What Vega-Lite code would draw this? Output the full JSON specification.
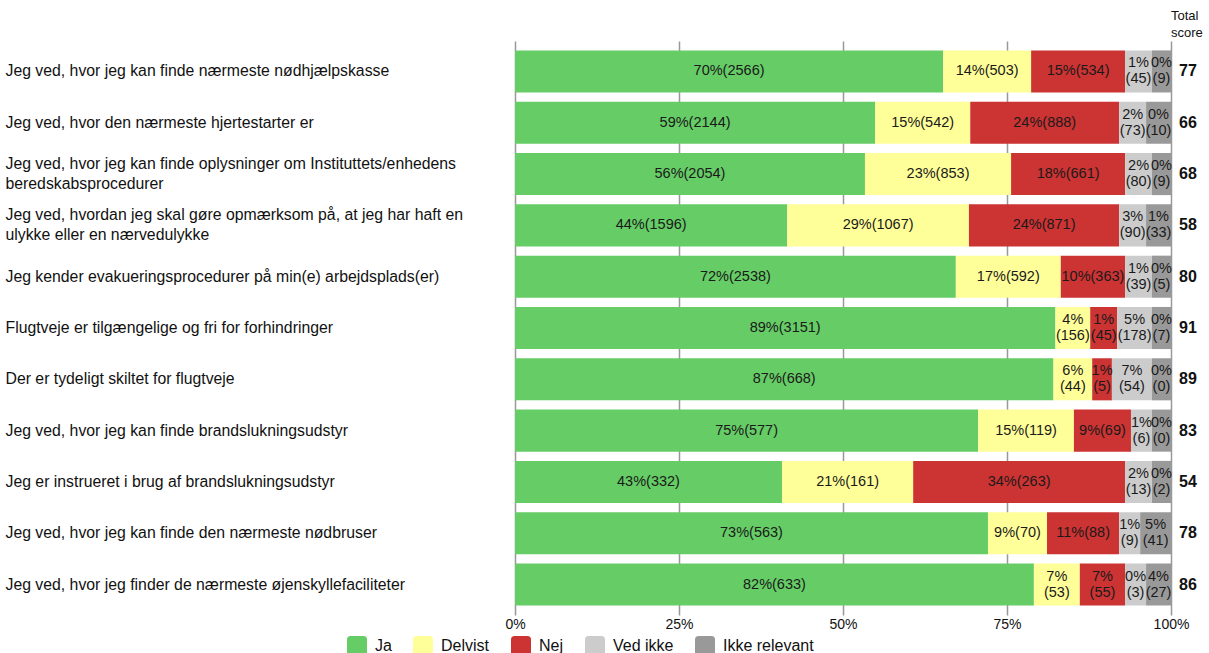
{
  "$schema": "https://vega.github.io/schema/vega-lite/v6.json",
  "autosize": {"type": "none"},
  "width": 656,
  "height": 574,
  "padding": {"left": 515, "top": 41, "right": 38, "bottom": 38},
  "config": {
    "font": "Liberation Sans",
    "view": {"stroke": null},
    "axis": {"labelColor": "#111", "labelFont": "Liberation Sans"},
    "legend": {"labelFont": "Liberation Sans"}
  },
  "title": {
    "text": ["Total", "score"],
    "orient": "top",
    "anchor": "end",
    "align": "left",
    "frame": "group",
    "fontSize": 13,
    "fontWeight": "normal",
    "color": "#111",
    "lineHeight": 17,
    "offset": 1,
    "dx": 0
  },
  "datasets": {
    "bars": [
      {"q": "Jeg ved, hvor jeg kan finde nærmeste nødhjælpskasse", "cat": "Ja", "k": 1, "share": 65.2, "lbl": "70%(2566)"},
      {"q": "Jeg ved, hvor jeg kan finde nærmeste nødhjælpskasse", "cat": "Delvist", "k": 2, "share": 13.4, "lbl": "14%(503)"},
      {"q": "Jeg ved, hvor jeg kan finde nærmeste nødhjælpskasse", "cat": "Nej", "k": 3, "share": 14.3, "lbl": "15%(534)"},
      {"q": "Jeg ved, hvor jeg kan finde nærmeste nødhjælpskasse", "cat": "Ved ikke", "k": 4, "share": 4.1, "lbl": "1%\n(45)"},
      {"q": "Jeg ved, hvor jeg kan finde nærmeste nødhjælpskasse", "cat": "Ikke relevant", "k": 5, "share": 2.9, "lbl": "0%\n(9)"},
      {"q": "Jeg ved, hvor den nærmeste hjertestarter er", "cat": "Ja", "k": 1, "share": 54.9, "lbl": "59%(2144)"},
      {"q": "Jeg ved, hvor den nærmeste hjertestarter er", "cat": "Delvist", "k": 2, "share": 14.5, "lbl": "15%(542)"},
      {"q": "Jeg ved, hvor den nærmeste hjertestarter er", "cat": "Nej", "k": 3, "share": 22.7, "lbl": "24%(888)"},
      {"q": "Jeg ved, hvor den nærmeste hjertestarter er", "cat": "Ved ikke", "k": 4, "share": 4.1, "lbl": "2%\n(73)"},
      {"q": "Jeg ved, hvor den nærmeste hjertestarter er", "cat": "Ikke relevant", "k": 5, "share": 3.8, "lbl": "0%\n(10)"},
      {"q": "Jeg ved, hvor jeg kan finde oplysninger om Instituttets/enhedens|beredskabsprocedurer", "cat": "Ja", "k": 1, "share": 53.4, "lbl": "56%(2054)"},
      {"q": "Jeg ved, hvor jeg kan finde oplysninger om Instituttets/enhedens|beredskabsprocedurer", "cat": "Delvist", "k": 2, "share": 22.3, "lbl": "23%(853)"},
      {"q": "Jeg ved, hvor jeg kan finde oplysninger om Instituttets/enhedens|beredskabsprocedurer", "cat": "Nej", "k": 3, "share": 17.4, "lbl": "18%(661)"},
      {"q": "Jeg ved, hvor jeg kan finde oplysninger om Instituttets/enhedens|beredskabsprocedurer", "cat": "Ved ikke", "k": 4, "share": 4.1, "lbl": "2%\n(80)"},
      {"q": "Jeg ved, hvor jeg kan finde oplysninger om Instituttets/enhedens|beredskabsprocedurer", "cat": "Ikke relevant", "k": 5, "share": 2.9, "lbl": "0%\n(9)"},
      {"q": "Jeg ved, hvordan jeg skal gøre opmærksom på, at jeg har haft en|ulykke eller en nærvedulykke", "cat": "Ja", "k": 1, "share": 41.5, "lbl": "44%(1596)"},
      {"q": "Jeg ved, hvordan jeg skal gøre opmærksom på, at jeg har haft en|ulykke eller en nærvedulykke", "cat": "Delvist", "k": 2, "share": 27.7, "lbl": "29%(1067)"},
      {"q": "Jeg ved, hvordan jeg skal gøre opmærksom på, at jeg har haft en|ulykke eller en nærvedulykke", "cat": "Nej", "k": 3, "share": 22.9, "lbl": "24%(871)"},
      {"q": "Jeg ved, hvordan jeg skal gøre opmærksom på, at jeg har haft en|ulykke eller en nærvedulykke", "cat": "Ved ikke", "k": 4, "share": 4.1, "lbl": "3%\n(90)"},
      {"q": "Jeg ved, hvordan jeg skal gøre opmærksom på, at jeg har haft en|ulykke eller en nærvedulykke", "cat": "Ikke relevant", "k": 5, "share": 3.8, "lbl": "1%\n(33)"},
      {"q": "Jeg kender evakueringsprocedurer på min(e) arbejdsplads(er)", "cat": "Ja", "k": 1, "share": 67.2, "lbl": "72%(2538)"},
      {"q": "Jeg kender evakueringsprocedurer på min(e) arbejdsplads(er)", "cat": "Delvist", "k": 2, "share": 16.0, "lbl": "17%(592)"},
      {"q": "Jeg kender evakueringsprocedurer på min(e) arbejdsplads(er)", "cat": "Nej", "k": 3, "share": 9.8, "lbl": "10%(363)"},
      {"q": "Jeg kender evakueringsprocedurer på min(e) arbejdsplads(er)", "cat": "Ved ikke", "k": 4, "share": 4.1, "lbl": "1%\n(39)"},
      {"q": "Jeg kender evakueringsprocedurer på min(e) arbejdsplads(er)", "cat": "Ikke relevant", "k": 5, "share": 2.9, "lbl": "0%\n(5)"},
      {"q": "Flugtveje er tilgængelige og fri for forhindringer", "cat": "Ja", "k": 1, "share": 82.3, "lbl": "89%(3151)"},
      {"q": "Flugtveje er tilgængelige og fri for forhindringer", "cat": "Delvist", "k": 2, "share": 5.3, "lbl": "4%\n(156)"},
      {"q": "Flugtveje er tilgængelige og fri for forhindringer", "cat": "Nej", "k": 3, "share": 4.1, "lbl": "1%\n(45)"},
      {"q": "Flugtveje er tilgængelige og fri for forhindringer", "cat": "Ved ikke", "k": 4, "share": 5.3, "lbl": "5%\n(178)"},
      {"q": "Flugtveje er tilgængelige og fri for forhindringer", "cat": "Ikke relevant", "k": 5, "share": 2.9, "lbl": "0%\n(7)"},
      {"q": "Der er tydeligt skiltet for flugtveje", "cat": "Ja", "k": 1, "share": 82.0, "lbl": "87%(668)"},
      {"q": "Der er tydeligt skiltet for flugtveje", "cat": "Delvist", "k": 2, "share": 5.9, "lbl": "6%\n(44)"},
      {"q": "Der er tydeligt skiltet for flugtveje", "cat": "Nej", "k": 3, "share": 3.0, "lbl": "1%\n(5)"},
      {"q": "Der er tydeligt skiltet for flugtveje", "cat": "Ved ikke", "k": 4, "share": 6.1, "lbl": "7%\n(54)"},
      {"q": "Der er tydeligt skiltet for flugtveje", "cat": "Ikke relevant", "k": 5, "share": 2.9, "lbl": "0%\n(0)"},
      {"q": "Jeg ved, hvor jeg kan finde brandslukningsudstyr", "cat": "Ja", "k": 1, "share": 70.6, "lbl": "75%(577)"},
      {"q": "Jeg ved, hvor jeg kan finde brandslukningsudstyr", "cat": "Delvist", "k": 2, "share": 14.6, "lbl": "15%(119)"},
      {"q": "Jeg ved, hvor jeg kan finde brandslukningsudstyr", "cat": "Nej", "k": 3, "share": 8.7, "lbl": "9%(69)"},
      {"q": "Jeg ved, hvor jeg kan finde brandslukningsudstyr", "cat": "Ved ikke", "k": 4, "share": 3.2, "lbl": "1%\n(6)"},
      {"q": "Jeg ved, hvor jeg kan finde brandslukningsudstyr", "cat": "Ikke relevant", "k": 5, "share": 2.9, "lbl": "0%\n(0)"},
      {"q": "Jeg er instrueret i brug af brandslukningsudstyr", "cat": "Ja", "k": 1, "share": 40.7, "lbl": "43%(332)"},
      {"q": "Jeg er instrueret i brug af brandslukningsudstyr", "cat": "Delvist", "k": 2, "share": 20.0, "lbl": "21%(161)"},
      {"q": "Jeg er instrueret i brug af brandslukningsudstyr", "cat": "Nej", "k": 3, "share": 32.3, "lbl": "34%(263)"},
      {"q": "Jeg er instrueret i brug af brandslukningsudstyr", "cat": "Ved ikke", "k": 4, "share": 4.1, "lbl": "2%\n(13)"},
      {"q": "Jeg er instrueret i brug af brandslukningsudstyr", "cat": "Ikke relevant", "k": 5, "share": 2.9, "lbl": "0%\n(2)"},
      {"q": "Jeg ved, hvor jeg kan finde den nærmeste nødbruser", "cat": "Ja", "k": 1, "share": 72.1, "lbl": "73%(563)"},
      {"q": "Jeg ved, hvor jeg kan finde den nærmeste nødbruser", "cat": "Delvist", "k": 2, "share": 9.0, "lbl": "9%(70)"},
      {"q": "Jeg ved, hvor jeg kan finde den nærmeste nødbruser", "cat": "Nej", "k": 3, "share": 11.0, "lbl": "11%(88)"},
      {"q": "Jeg ved, hvor jeg kan finde den nærmeste nødbruser", "cat": "Ved ikke", "k": 4, "share": 3.2, "lbl": "1%\n(9)"},
      {"q": "Jeg ved, hvor jeg kan finde den nærmeste nødbruser", "cat": "Ikke relevant", "k": 5, "share": 4.7, "lbl": "5%\n(41)"},
      {"q": "Jeg ved, hvor jeg finder de nærmeste øjenskyllefaciliteter", "cat": "Ja", "k": 1, "share": 79.1, "lbl": "82%(633)"},
      {"q": "Jeg ved, hvor jeg finder de nærmeste øjenskyllefaciliteter", "cat": "Delvist", "k": 2, "share": 7.0, "lbl": "7%\n(53)"},
      {"q": "Jeg ved, hvor jeg finder de nærmeste øjenskyllefaciliteter", "cat": "Nej", "k": 3, "share": 6.9, "lbl": "7%\n(55)"},
      {"q": "Jeg ved, hvor jeg finder de nærmeste øjenskyllefaciliteter", "cat": "Ved ikke", "k": 4, "share": 3.2, "lbl": "0%\n(3)"},
      {"q": "Jeg ved, hvor jeg finder de nærmeste øjenskyllefaciliteter", "cat": "Ikke relevant", "k": 5, "share": 3.8, "lbl": "4%\n(27)"}
    ],
    "scores": [
      {"q": "Jeg ved, hvor jeg kan finde nærmeste nødhjælpskasse", "score": 77},
      {"q": "Jeg ved, hvor den nærmeste hjertestarter er", "score": 66},
      {"q": "Jeg ved, hvor jeg kan finde oplysninger om Instituttets/enhedens|beredskabsprocedurer", "score": 68},
      {"q": "Jeg ved, hvordan jeg skal gøre opmærksom på, at jeg har haft en|ulykke eller en nærvedulykke", "score": 58},
      {"q": "Jeg kender evakueringsprocedurer på min(e) arbejdsplads(er)", "score": 80},
      {"q": "Flugtveje er tilgængelige og fri for forhindringer", "score": 91},
      {"q": "Der er tydeligt skiltet for flugtveje", "score": 89},
      {"q": "Jeg ved, hvor jeg kan finde brandslukningsudstyr", "score": 83},
      {"q": "Jeg er instrueret i brug af brandslukningsudstyr", "score": 54},
      {"q": "Jeg ved, hvor jeg kan finde den nærmeste nødbruser", "score": 78},
      {"q": "Jeg ved, hvor jeg finder de nærmeste øjenskyllefaciliteter", "score": 86}
    ]
  },
  "encoding": {
    "y": {
      "field": "q",
      "type": "nominal",
      "title": null,
      "scale": {
        "domain": [
          "Jeg ved, hvor jeg kan finde nærmeste nødhjælpskasse",
          "Jeg ved, hvor den nærmeste hjertestarter er",
          "Jeg ved, hvor jeg kan finde oplysninger om Instituttets/enhedens|beredskabsprocedurer",
          "Jeg ved, hvordan jeg skal gøre opmærksom på, at jeg har haft en|ulykke eller en nærvedulykke",
          "Jeg kender evakueringsprocedurer på min(e) arbejdsplads(er)",
          "Flugtveje er tilgængelige og fri for forhindringer",
          "Der er tydeligt skiltet for flugtveje",
          "Jeg ved, hvor jeg kan finde brandslukningsudstyr",
          "Jeg er instrueret i brug af brandslukningsudstyr",
          "Jeg ved, hvor jeg kan finde den nærmeste nødbruser",
          "Jeg ved, hvor jeg finder de nærmeste øjenskyllefaciliteter"
        ],
        "paddingInner": 0.18,
        "paddingOuter": 0.183
      },
      "axis": {
        "labelExpr": "split(datum.label, '|')",
        "labelAlign": "left",
        "labelBaseline": "middle",
        "labelPadding": 510,
        "labelLimit": 505,
        "labelFontSize": 15.8,
        "labelLineHeight": 20,
        "labelOffset": {"condition": {"test": "indexof(datum.value, '|') >= 0", "value": -10}, "value": 0},
        "labelColor": "#111",
        "ticks": false,
        "domain": false,
        "grid": false
      }
    }
  },
  "layer": [
    {
      "data": {"name": "bars"},
      "mark": {"type": "bar"},
      "encoding": {
        "x": {
          "field": "share",
          "type": "quantitative",
          "stack": "normalize",
          "title": null,
          "scale": {"domain": [0, 1], "nice": false},
          "axis": {
            "values": [0, 0.25, 0.5, 0.75, 1],
            "format": ".0%",
            "grid": true,
            "gridColor": "#999999",
            "gridWidth": 1.5,
            "ticks": false,
            "domain": false,
            "labelFlush": false,
            "labelFontSize": 14,
            "labelPadding": 2,
            "labelColor": "#111"
          }
        },
        "color": {
          "field": "cat",
          "type": "nominal",
          "scale": {
            "domain": ["Ja", "Delvist", "Nej", "Ved ikke", "Ikke relevant"],
            "range": ["#66cc66", "#ffff99", "#cc3333", "#cccccc", "#999999"]
          },
          "legend": {
            "title": null,
            "orient": "none",
            "direction": "horizontal",
            "legendX": -168,
            "legendY": 595,
            "padding": 0,
            "symbolType": "M -0.65 -1 L 0.65 -1 Q 1 -1 1 -0.65 L 1 0.65 Q 1 1 0.65 1 L -0.65 1 Q -1 1 -1 0.65 L -1 -0.65 Q -1 -1 -0.65 -1 Z",
            "symbolSize": 400,
            "symbolStrokeWidth": 0,
            "symbolOpacity": 1,
            "labelFontSize": 16,
            "labelColor": "#111",
            "labelOffset": 8,
            "columnPadding": 21
          }
        },
        "order": {"field": "k", "type": "quantitative"}
      }
    },
    {
      "data": {"name": "bars"},
      "transform": [
        {"stack": "share", "groupby": ["q"], "offset": "normalize", "sort": [{"field": "k", "order": "ascending"}], "as": ["s0", "s1"]},
        {"calculate": "(datum.s0 + datum.s1) / 2", "as": "mid"},
        {"filter": "indexof(datum.lbl, '\\n') < 0"}
      ],
      "mark": {"type": "text", "fontSize": 14.5, "color": "#1a1a1a", "align": "center", "baseline": "middle"},
      "encoding": {
        "x": {"field": "mid", "type": "quantitative"},
        "text": {"field": "lbl", "type": "nominal"}
      }
    },
    {
      "data": {"name": "bars"},
      "transform": [
        {"stack": "share", "groupby": ["q"], "offset": "normalize", "sort": [{"field": "k", "order": "ascending"}], "as": ["s0", "s1"]},
        {"calculate": "(datum.s0 + datum.s1) / 2", "as": "mid"},
        {"filter": "indexof(datum.lbl, '\\n') >= 0"}
      ],
      "mark": {"type": "text", "fontSize": 14.5, "color": "#1a1a1a", "lineBreak": "\n", "lineHeight": 16, "align": "center", "baseline": "middle", "dy": -8},
      "encoding": {
        "x": {"field": "mid", "type": "quantitative"},
        "text": {"field": "lbl", "type": "nominal"}
      }
    },
    {
      "data": {"name": "scores"},
      "mark": {"type": "text", "fontSize": 16, "fontWeight": "bold", "color": "#111", "align": "left", "baseline": "middle", "dx": 8},
      "encoding": {
        "x": {"datum": 1, "type": "quantitative"},
        "text": {"field": "score", "type": "quantitative"}
      }
    }
  ]
}
